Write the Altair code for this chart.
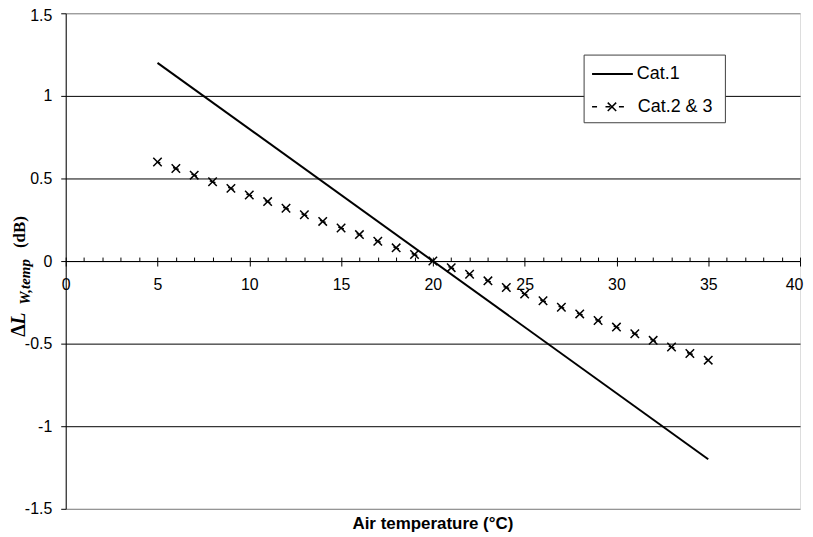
import altair as alt
import pandas as pd

# ---- data ----
cat1_temp = [5, 35]
cat1_dl = [1.2, -1.2]

cat23_temp = [5, 6, 7, 8, 9, 10, 11, 12, 13, 14, 15, 16, 17, 18, 19, 20,
              21, 22, 23, 24, 25, 26, 27, 28, 29, 30, 31, 32, 33, 34, 35]
cat23_dl = [0.60, 0.56, 0.52, 0.48, 0.44, 0.40, 0.36, 0.32, 0.28, 0.24, 0.20,
            0.16, 0.12, 0.08, 0.04, 0.00, -0.04, -0.08, -0.12, -0.16, -0.20,
            -0.24, -0.28, -0.32, -0.36, -0.40, -0.44, -0.48, -0.52, -0.56, -0.60]

x_major = [0, 5, 10, 15, 20, 25, 30, 35, 40]
x_minor = [0, 1, 2, 3, 4, 5, 6, 7, 8, 9, 10, 11, 12, 13, 14, 15, 16, 17, 18, 19, 20,
           21, 22, 23, 24, 25, 26, 27, 28, 29, 30, 31, 32, 33, 34, 35, 36, 37, 38, 39, 40]
y_ticks = [-1.5, -1, -0.5, 0, 0.5, 1, 1.5]
legend_labels = ["Cat.1", "Cat.2 & 3"]
x_title = "Air temperature (°C)"

W, H = 738, 498
FONT = "Liberation Sans"
SERIF = "Liberation Serif"

df1 = pd.DataFrame({"t": cat1_temp, "dl": cat1_dl})
df2 = pd.DataFrame({"t": cat23_temp, "dl": cat23_dl})
one = pd.DataFrame({"a": [0]})

xs = alt.Scale(domain=[0, 40], nice=False, zero=False)
ys = alt.Scale(domain=[-1.5, 1.5], nice=False, zero=False)

y_axis = alt.Axis(
    values=y_ticks, grid=True,
    gridColor={"condition": {"test": "abs(datum.value) == 1.5", "value": "#808080"}, "value": "black"},
    gridWidth=1, tickSize=5, tickColor="black", domainColor="black",
    labelFont=FONT, labelFontSize=16, labelColor="black", labelPadding=9,
    labelOffset={"condition": {"test": "datum.value == 1.5", "value": 2}, "value": 0},
    labelExpr="'' + datum.value", title=None,
)

x_axis_major = alt.Axis(
    orient="bottom", offset=-249, values=x_major, grid=False, tickSize=5,
    tickColor="black", domainColor="black", labelFont=FONT, labelFontSize=16,
    labelColor="black", labelPadding=11, labelFlush=False,
    labelOffset={"condition": {"test": "datum.value == 40", "value": -6}, "value": 0},
    labelExpr="'' + datum.value", title=None,
)
x_axis_minor = alt.Axis(
    orient="top", offset=-249, values=x_minor, grid=False, tickSize=4,
    tickColor="black", domain=False, labels=False, title=None,
)

cat1 = alt.Chart(df1).mark_line(color="black", strokeWidth=2).encode(
    x=alt.X("t:Q", scale=xs, axis=x_axis_major),
    y=alt.Y("dl:Q", scale=ys, axis=y_axis),
)
# dashed connector: dashes centred on the markers (segment length ~19.6 px)
cat23_line = alt.Chart(df2).mark_line(color="black", strokeWidth=1.5,
                                      strokeDash=[6, 13.61], strokeDashOffset=3).encode(
    x=alt.X("t:Q", scale=xs, axis=x_axis_minor),
    y=alt.Y("dl:Q", scale=ys, axis=y_axis),
)
cross = "M-1,-1L1,1M-1,1L1,-1"
cat23_pts = alt.Chart(df2).mark_point(shape=cross, filled=False, color="black",
                                      strokeWidth=1.5, size=72, opacity=1).encode(
    x=alt.X("t:Q", scale=xs, axis=None),
    y=alt.Y("dl:Q", scale=ys, axis=y_axis),
)

# ---- legend (drawn by hand) ----
leg_box = alt.Chart(one).mark_rect(fill="white", stroke="#404040", strokeWidth=1).encode(
    x=alt.value(521), x2=alt.value(663), y=alt.value(42), y2=alt.value(110))
leg_l1 = alt.Chart(one).mark_rule(color="black", strokeWidth=2).encode(
    x=alt.value(529), x2=alt.value(570), y=alt.value(61))
leg_l2 = alt.Chart(one).mark_rule(color="black", strokeWidth=1.5, strokeDash=[5, 8.5]).encode(
    x=alt.value(529), x2=alt.value(562), y=alt.value(94))
leg_pt = alt.Chart(one).mark_point(shape=cross, filled=False, color="black",
                                   strokeWidth=1.5, size=72, opacity=1).encode(
    x=alt.value(549), y=alt.value(94))
leg_t1 = alt.Chart(one).mark_text(text=legend_labels[0], font=FONT, fontSize=18, align="left",
                                  baseline="middle", color="black").encode(
    x=alt.value(574), y=alt.value(61))
leg_t2 = alt.Chart(one).mark_text(text=legend_labels[1], font=FONT, fontSize=18, align="left",
                                  baseline="middle", color="black").encode(
    x=alt.value(575), y=alt.value(94))

# ---- axis titles ----
xt = alt.Chart(one).mark_text(text=x_title, font=FONT, fontSize=17, fontWeight="bold",
                              align="center", baseline="alphabetic", color="black").encode(
    x=alt.value(W / 2), y=alt.value(518))

def ytext(txt, x, y, size, style="normal", weight="bold"):
    return alt.Chart(one).mark_text(text=txt, font=SERIF, fontSize=size, fontStyle=style,
                                    fontWeight=weight, align="left",
                                    baseline="alphabetic", color="black").encode(
        x=alt.value(x), y=alt.value(y), angle=alt.value(270))

yt_delta = ytext("Δ", -41, 325, 20)
yt_L = ytext("L", -41, 313, 20, style="italic")
yt_sub = ytext("W,temp", -36, 293, 15, style="italic")
yt_db = ytext("(dB)", -41, 236, 17)

chart = alt.layer(
    cat1, cat23_line, cat23_pts,
    leg_box, leg_l1, leg_l2, leg_pt, leg_t1, leg_t2,
    xt, yt_delta, yt_L, yt_sub, yt_db,
).resolve_axis(x="independent").properties(
    width=W, height=H, autosize="none",
    padding={"left": 58, "top": 4, "right": 5, "bottom": 24},
).configure_view(stroke="#808080", strokeWidth=1).configure(background="white")

chart.save("out.html", embed_options={"renderer": "svg", "actions": False})
